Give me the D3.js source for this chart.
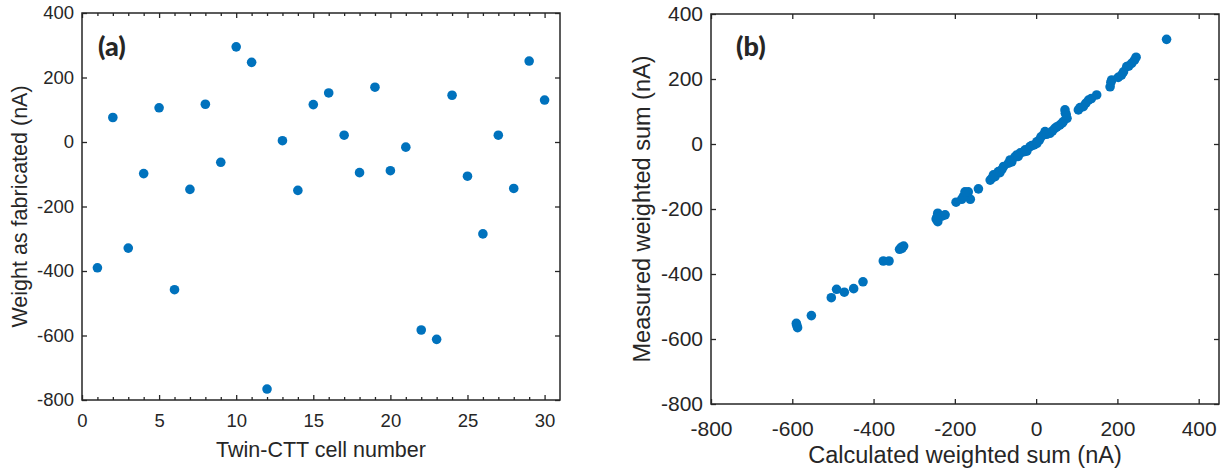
<!DOCTYPE html>
<html>
<head>
<meta charset="utf-8">
<script src="https://cdn.jsdelivr.net/npm/d3@7"></script>
<style>
  html, body { margin: 0; padding: 0; background: #fff; }
  svg { display: block; }
  text { font-family: "Liberation Sans", Arial, Helvetica, sans-serif; fill: #262626; }
</style>
</head>
<body>
<svg id="chart" width="1228" height="474"></svg>
<script>
// ---------- DATA ----------
const cellNumber = [1,2,3,4,5,6,7,8,9,10,11,12,13,14,15,16,17,18,19,20,21,22,23,24,25,26,27,28,29,30];
const weightFabricated = [-390,76,-329,-98,106,-458,-147,117,-63,295,247,-766,4,-150,116,152,21,-95,170,-89,-16,-583,-612,145,-106,-285,21,-144,251,130];

const calculatedSum = [
  -590,-587,-589,-553,-504,-491,-472,-449,-426,-376,-362,
  -336,-326,-330,-332,-242,-232,-242,-246,-224,-244,-197,
  -183,-169,-162,-179,-167,-175,-142,
  -113,-109,-105,-101,-93,-89,-80,-84,-68,-64,-60,-52,-48,-44,-39,-31,-27,-23,-15,-11,-5,
  2,2,8,12,18,22,26,34,40,46,51,58,64,67,71,72,76,74,
  104,108,116,122,129,136,149,
  182,184,186,202,210,215,223,228,235,242,246,
  321
];
const measuredSum = [
  -552,-565,-558,-528,-473,-447,-456,-445,-424,-360,-360,
  -324,-314,-321,-318,-213,-222,-239,-231,-218,-225,-179,
  -170,-154,-170,-162,-147,-147,-138,
  -111,-106,-95,-100,-85,-88,-69,-78,-59,-49,-55,-40,-34,-38,-27,-24,-18,-22,-8,-5,-3,
  7,2,12,22,28,38,30,33,40,48,53,58,64,69,105,95,79,90,
  105,112,115,125,135,140,151,
  176,190,197,205,212,222,238,240,248,258,267,
  322
];

const xTicksA = [0,5,10,15,20,25,30];
const xMinorA = [1,2,3,4,6,7,8,9,11,12,13,14,16,17,18,19,21,22,23,24,26,27,28,29];
const yTicksA = [-800,-600,-400,-200,0,200,400];
const xTicksB = [-800,-600,-400,-200,0,200,400];
const yTicksB = [-800,-600,-400,-200,0,200,400];

// ---------- DRAW ----------
const svg = d3.select("#chart");
const dotColor = "#0072BD";
const axisColor = "#262626";
const fmt = d => String(d);

function panel(opts) {
  const { x0, x1, y0, y1, xDomain, yDomain, xTicks, yTicks, xMinor, xs, ys, r,
          tickFont, labelFont, xPad, xLabel, yLabel, xLabelY, yLabelX, tag, tagX, tagY } = opts;
  const x = d3.scaleLinear().domain(xDomain).range([x0, x1]);
  const y = d3.scaleLinear().domain(yDomain).range([y1, y0]);
  const g = svg.append("g");

  // points
  g.append("g").selectAll("circle").data(xs.map((v, i) => [v, ys[i]])).join("circle")
    .attr("cx", d => x(d[0])).attr("cy", d => y(d[1])).attr("r", r)
    .attr("fill", dotColor);

  const styleAxis = (sel, hideLabels) => {
    sel.select(".domain").remove();
    sel.selectAll(".tick line").attr("stroke", axisColor).attr("stroke-width", 1.3);
    sel.selectAll(".tick text").style("font-size", tickFont + "px").attr("fill", axisColor);
    if (hideLabels) sel.selectAll(".tick text").remove();
  };

  // bottom
  g.append("g").attr("transform", `translate(0,${y1})`)
    .call(d3.axisBottom(x).tickValues(xTicks).tickSize(-5).tickPadding(xPad).tickFormat(fmt))
    .call(s => styleAxis(s, false));
  // top
  g.append("g").attr("transform", `translate(0,${y0})`)
    .call(d3.axisTop(x).tickValues(xTicks).tickSize(-5))
    .call(s => styleAxis(s, true));
  if (xMinor) {
    g.append("g").attr("transform", `translate(0,${y1})`)
      .call(d3.axisBottom(x).tickValues(xMinor).tickSize(-3))
      .call(s => styleAxis(s, true));
    g.append("g").attr("transform", `translate(0,${y0})`)
      .call(d3.axisTop(x).tickValues(xMinor).tickSize(-3))
      .call(s => styleAxis(s, true));
  }
  // left
  g.append("g").attr("transform", `translate(${x0},0)`)
    .call(d3.axisLeft(y).tickValues(yTicks).tickSize(-5).tickPadding(8).tickFormat(fmt))
    .call(s => styleAxis(s, false));
  // right
  g.append("g").attr("transform", `translate(${x1},0)`)
    .call(d3.axisRight(y).tickValues(yTicks).tickSize(-5))
    .call(s => styleAxis(s, true));

  // box
  g.append("rect").attr("x", x0).attr("y", y0).attr("width", x1 - x0).attr("height", y1 - y0)
    .attr("fill", "none").attr("stroke", axisColor).attr("stroke-width", 1.5);

  // labels
  g.append("text").attr("x", (x0 + x1) / 2).attr("y", xLabelY).attr("text-anchor", "middle")
    .style("font-size", labelFont + "px").text(xLabel);
  g.append("text").attr("transform", `translate(${yLabelX},${(y0 + y1) / 2}) rotate(-90)`)
    .attr("text-anchor", "middle").style("font-size", labelFont + "px").text(yLabel);
  g.append("text").attr("x", tagX).attr("y", tagY)
    .style("font-family", "Lato, 'Liberation Sans', sans-serif").style("font-weight", "900")
    .style("font-size", "27px").attr("fill", "#000").text(tag);
}

panel({
  x0: 82, x1: 560, y0: 13, y1: 400,
  xDomain: [0, 31], yDomain: [-800, 400],
  xTicks: xTicksA, yTicks: yTicksA, xMinor: xMinorA, r: 4.8,
  xs: cellNumber, ys: weightFabricated,
  tickFont: 18.5, labelFont: 21.5, xPad: 14,
  xLabel: "Twin-CTT cell number", yLabel: "Weight as fabricated (nA)",
  xLabelY: 457, yLabelX: 27, tag: "(a)", tagX: 98, tagY: 56
});

panel({
  x0: 711, x1: 1219, y0: 14, y1: 404,
  xDomain: [-800, 450], yDomain: [-800, 400],
  xTicks: xTicksB, yTicks: yTicksB, xMinor: null, r: 4.8,
  xs: calculatedSum, ys: measuredSum,
  tickFont: 21, labelFont: 23.5, xPad: 17,
  xLabel: "Calculated weighted sum (nA)", yLabel: "Measured weighted sum (nA)",
  xLabelY: 463, yLabelX: 650, tag: "(b)", tagX: 736, tagY: 56
});
</script>
</body>
</html>
